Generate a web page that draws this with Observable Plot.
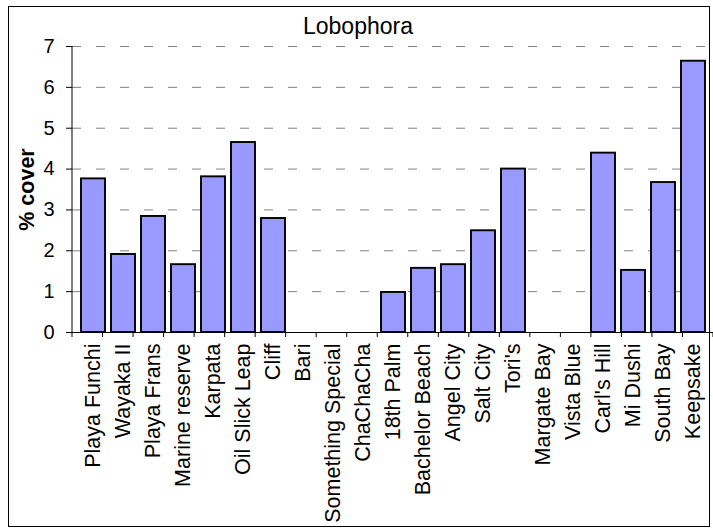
<!DOCTYPE html>
<html>
<head>
<meta charset="utf-8">
<script src="https://cdn.jsdelivr.net/npm/d3@7"></script>
<script src="https://cdn.jsdelivr.net/npm/@observablehq/plot@0.6"></script>
<style>
  html, body { margin: 0; padding: 0; background: #fff; }
  #wrap { position: relative; width: 713px; height: 528px; overflow: hidden; font-family: "Liberation Sans", Arial, sans-serif; }
  #border { position: absolute; left: 8px; top: 6px; width: 702px; height: 521px; box-sizing: border-box; border: 1px solid #000; pointer-events: none; z-index: 3; }
  #title { position: absolute; left: 0; width: 716px; top: 15px; text-align: center; font-size: 23px; line-height: 23px; color: #000; z-index: 2; }
  #chart { position: absolute; left: 0; top: 0; z-index: 1; }
</style>
</head>
<body>
<div id="wrap">
  <div id="chart"></div>
  <div id="title">Lobophora</div>
  <div id="border"></div>
</div>
<script>
const categories = ["Playa Funchi", "Wayaka II", "Playa Frans", "Marine reserve", "Karpata", "Oil Slick Leap", "Cliff", "Bari", "Something Special", "ChaChaCha", "18th Palm", "Bachelor Beach", "Angel City", "Salt City", "Tori's", "Margate Bay", "Vista Blue", "Carl's Hill", "Mi Dushi", "South Bay", "Keepsake"];
const coverValues = [3.76, 1.91, 2.84, 1.66, 3.81, 4.65, 2.79, 0, 0, 0, 0.98, 1.57, 1.66, 2.49, 4.00, 0, 0, 4.39, 1.52, 3.67, 6.64];
const yTicks = [0, 1, 2, 3, 4, 5, 6, 7];
const yLabel = "% cover";

const data = categories.map((c, i) => ({site: c, cover: coverValues[i]}));
const font = "'Liberation Sans', Arial, sans-serif";

const chart = Plot.plot({
  width: 713,
  height: 528,
  marginLeft: 72,
  marginRight: 0,
  marginTop: 46,
  marginBottom: 196,
  style: {fontFamily: font, background: "transparent", color: "#000", overflow: "visible"},
  x: {domain: categories, paddingInner: 0.2, paddingOuter: 0.1, label: null},
  y: {domain: [0, 7], label: null},
  marks: [
    Plot.ruleY(yTicks.filter(d => d > 0), {stroke: "#808080", strokeWidth: 1, strokeDasharray: "9,15"}),
    Plot.barY(data, {x: "site", y: "cover", fill: "#9999ff", stroke: "#000", strokeWidth: 1.9}),
    Plot.ruleY([0], {stroke: "#000", strokeWidth: 1}),
    Plot.axisY({ticks: yTicks, tickSize: 6, tickPadding: 12, fontSize: 20, label: null, tickFormat: d => String(d), stroke: "#000"}),
    Plot.axisX({tickSize: 0, tickPadding: 11, tickRotate: -90, fontSize: 21.5, label: null}),
    Plot.text([yLabel], {frameAnchor: "left", dx: -45, rotate: -90, fontWeight: "bold", fontSize: 21.5, textAnchor: "middle", lineAnchor: "middle", fill: "#000"})
  ]
});
document.getElementById("chart").appendChild(chart);

// axis line and category boundary ticks, positioned from the scales
const xs = chart.scale("x"), ys = chart.scale("y");
const [x0, x1] = xs.range;
const [yBottom, yTop] = ys.range;
const svg = d3.select(chart);
const g = svg.append("g").attr("stroke", "#000").attr("stroke-width", 1);
g.append("line").attr("x1", x0).attr("x2", x0).attr("y1", yTop).attr("y2", yBottom);
const n = categories.length;
for (let i = 0; i <= n; i++) {
  const x = x0 + (x1 - x0) * i / n;
  g.append("line").attr("x1", x).attr("x2", x).attr("y1", yBottom).attr("y2", yBottom + 5);
}
</script>
</body>
</html>
